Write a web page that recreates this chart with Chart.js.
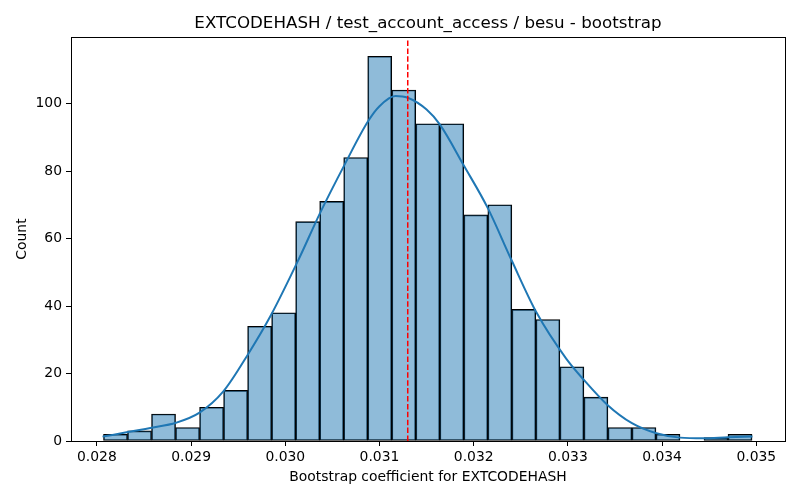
<!DOCTYPE html>
<html>
<head>
<meta charset="utf-8">
<script src="https://cdn.jsdelivr.net/npm/chart.js@4.4.1/dist/chart.umd.min.js"></script>
<style>
  html, body { margin: 0; padding: 0; background: #fff; }
  #wrap { width: 800px; height: 500px; }
</style>
</head>
<body>
<div id="wrap"><canvas id="hist" width="800" height="500"></canvas></div>
<script>
// histogram bins (27 bins of equal width)
const binStart = 0.02807;
const binWidth = 0.000255;
const binCounts = [2, 3, 8, 4, 10, 15, 34, 38, 65, 71, 84, 114, 104, 94,
                   94, 67, 70, 39, 36, 22, 13, 4, 4, 2, 0, 1, 2];

// KDE curve
const kdeX = [0.02806, 0.02858, 0.02884, 0.02909, 0.02934, 0.02960, 0.02985,
              0.03014, 0.03037, 0.03063, 0.03088, 0.03100, 0.03117, 0.03130,
              0.03150, 0.03164, 0.03190, 0.03215, 0.03240, 0.03267, 0.03298,
              0.03317, 0.03342, 0.03368, 0.03394, 0.03419, 0.03444, 0.03470,
              0.03496];
const kdeY = [1.3, 3.9, 5.4, 8.4, 14.6, 25.5, 37.4,
              53.7, 67.6, 81.9, 94.8, 99.2, 102.2, 101.7,
              98.2, 93.8, 81.4, 69.0, 53.7, 37.9, 24.5,
              18.1, 10.7, 5.3, 2.3, 1.0, 0.8, 1.1,
              1.3];

const meanLine = 0.0313;

const xTicks = [0.028, 0.029, 0.030, 0.031, 0.032, 0.033, 0.034, 0.035];
const yTicks = [0, 20, 40, 60, 80, 100];
const xRange = [0.027725, 0.035305];
const yRange = [0, 119.7];

const barData = binCounts.map((c, i) => ({ x: binStart + (i + 0.5) * binWidth, y: c }));
const kdeData = kdeX.map((x, i) => ({ x: x, y: kdeY[i] }));

const FONT = "'DejaVu Sans', sans-serif";
Chart.defaults.color = '#000';
Chart.defaults.font.family = FONT;
Chart.defaults.font.size = 13.9;

// matplotlib style frame around the axes
const framePlugin = {
  id: 'frame',
  afterDatasetsDraw(chart) {
    const a = chart.chartArea;
    const ctx = chart.ctx;
    ctx.save();
    ctx.strokeStyle = '#000';
    ctx.lineWidth = 1;
    ctx.strokeRect(Math.round(a.left) + 0.5, Math.round(a.top) + 0.5,
                   Math.round(a.right - a.left), Math.round(a.bottom - a.top));
    ctx.restore();
  }
};

const ctx = document.getElementById('hist').getContext('2d');
new Chart(ctx, {
  type: 'bar',
  data: {
    datasets: [{
      type: 'line',
      data: [{ x: meanLine, y: yRange[0] }, { x: meanLine, y: yRange[1] }],
      borderColor: '#ff0000',
      borderWidth: 1.5,
      borderDash: [5.5, 2.4],
      pointRadius: 0,
      order: 1
    }, {
      type: 'line',
      data: kdeData,
      borderColor: '#1f77b4',
      borderWidth: 2,
      pointRadius: 0,
      cubicInterpolationMode: 'monotone',
      order: 2
    }, {
      type: 'bar',
      data: barData,
      backgroundColor: 'rgba(31, 119, 180, 0.5)',
      borderColor: '#000',
      borderWidth: 1,
      borderSkipped: false,
      barPercentage: 1,
      categoryPercentage: 1,
      order: 3
    }]
  },
  options: {
    responsive: false,
    animation: false,
    devicePixelRatio: 1,
    layout: { padding: { left: 0, right: 15, top: 0, bottom: 0 } },
    scales: {
      x: {
        type: 'linear',
        min: xRange[0],
        max: xRange[1],
        offset: false,
        afterFit: s => { s.height = 59; },
        afterBuildTicks: s => { s.ticks = xTicks.map(v => ({ value: v })); },
        ticks: {
          padding: 3,
          maxRotation: 0,
          callback: v => v.toFixed(3)
        },
        grid: { drawOnChartArea: false, drawTicks: true, tickLength: 5, tickColor: '#000', offset: false },
        border: { display: false },
        title: {
          display: true,
          text: 'Bootstrap coefficient for EXTCODEHASH',
          font: { size: 13.9 },
          padding: { top: 0, bottom: 14.6 }
        }
      },
      y: {
        min: yRange[0],
        max: yRange[1],
        afterFit: s => { s.width = 71; },
        afterBuildTicks: s => { s.ticks = yTicks.map(v => ({ value: v })); },
        ticks: { padding: 4 },
        grid: { drawOnChartArea: false, drawTicks: true, tickLength: 5, tickColor: '#000' },
        border: { display: false },
        title: {
          display: true,
          text: 'Count',
          font: { size: 13.9 },
          padding: { top: 13.6, bottom: 0 }
        }
      }
    },
    plugins: {
      legend: { display: false },
      tooltip: { enabled: false },
      title: {
        display: true,
        text: 'EXTCODEHASH / test_account_access / besu - bootstrap',
        fullSize: false,
        font: { size: 16.7, weight: 'normal' },
        padding: { top: 14, bottom: 3 }
      }
    }
  },
  plugins: [framePlugin]
});
</script>
</body>
</html>
